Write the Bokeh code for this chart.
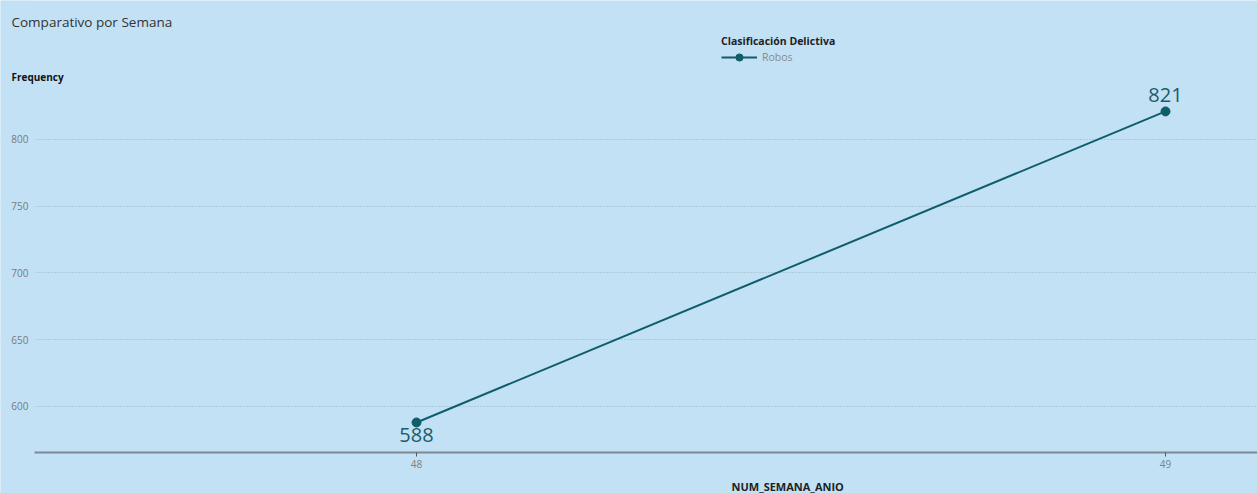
from bokeh.plotting import figure
from bokeh.models import (ColumnDataSource, Range1d, FixedTicker, Label, LabelSet,
                          Legend, LegendItem, BoxAnnotation)
from bokeh.core.properties import value
from bokeh.embed import file_html
from bokeh.resources import INLINE

# ---- data ----
weeks = [48, 49]
robos = [588, 821]
series_name = "Robos"
y_ticks = [600, 650, 700, 750, 800]
x_ticks = [48, 49]

BG = "#c2e1f5"
LINE = "#0f5d6a"
FONT = "Open Sans"

# plot-area limits (data units) and where the axes sit
X_MIN, X_MAX = 47.4446, 49.1228
Y_MIN, Y_MAX = 534.8, 904.1
X_AXIS_AT = 565.5
Y_AXIS_AT = 47.49

offsets = [(-13 if v == min(robos) else 16) for v in robos]
src = ColumnDataSource(dict(x=weeks, y=robos, lbl=[str(v) for v in robos], off=offsets))

p = figure(width=1257, height=493, output_backend="svg", toolbar_location=None,
           title=None, x_range=Range1d(X_MIN, X_MAX), y_range=Range1d(Y_MIN, Y_MAX),
           min_border_left=0, min_border_right=0, min_border_top=0, min_border_bottom=0)
p.background_fill_color = BG
p.border_fill_color = BG
p.outline_line_color = None

# axes
p.xaxis.fixed_location = X_AXIS_AT
p.xaxis.bounds = (Y_AXIS_AT, X_MAX)
p.xaxis.ticker = FixedTicker(ticks=x_ticks)
p.xaxis.axis_line_color = "#7c8a95"
p.xaxis.axis_line_width = 2
p.xaxis.major_tick_line_color = "#555555"
p.xaxis.major_tick_in = 0
p.xaxis.major_tick_out = 4
p.xaxis.minor_tick_line_color = None
p.xaxis.major_label_standoff = 3
p.xaxis.major_label_text_font = FONT
p.xaxis.major_label_text_font_size = "10px"
p.xaxis.major_label_text_color = "#808080"

p.yaxis.fixed_location = Y_AXIS_AT
p.yaxis.ticker = FixedTicker(ticks=y_ticks)
p.yaxis.axis_line_color = None
p.yaxis.major_tick_line_color = None
p.yaxis.major_tick_in = 0
p.yaxis.major_tick_out = 0
p.yaxis.minor_tick_line_color = None
p.yaxis.major_label_standoff = 6
p.yaxis.major_label_text_font = FONT
p.yaxis.major_label_text_font_size = "10px"
p.yaxis.major_label_text_color = "#7a7a7a"

p.xgrid.grid_line_color = None
p.ygrid.ticker = FixedTicker(ticks=y_ticks)
p.ygrid.grid_line_color = "#9fb2bf"
p.ygrid.grid_line_dash = "1 2"
p.ygrid.grid_line_width = 1

# keep the grid out of the tick-label strip
p.add_layout(BoxAnnotation(right=Y_AXIS_AT, fill_color=BG, fill_alpha=1,
                           line_alpha=0, level="glyph"))

# series
ln = p.line("x", "y", source=src, line_color=LINE, line_width=2)
pts = p.scatter("x", "y", source=src, size=9, fill_color=LINE, line_color=LINE)

p.add_layout(LabelSet(x="x", y="y", text="lbl", source=src, y_offset="off",
                      text_align="center", text_baseline="middle",
                      text_font=value(FONT), text_font_size="20px", text_color="#1d5b68"))

# legend
legend = Legend(items=[LegendItem(label=series_name, renderers=[ln, pts])],
                title="Clasificación Delictiva", location=(721, 427),
                orientation="vertical", background_fill_alpha=0, border_line_color=None,
                padding=2, margin=0, spacing=0, glyph_width=36, glyph_height=18,
                label_text_font=FONT, label_text_font_size="10.5px",
                label_text_color="#8a8a8a", label_standoff=5,
                title_text_font=FONT, title_text_font_style="bold",
                title_text_font_size="10.5px", title_text_color="#222222",
                title_standoff=0)
p.add_layout(legend)

# texts around the plot area (screen units, from the lower-left corner)
p.add_layout(Label(x=11, y=472, x_units="screen", y_units="screen",
                   text="Comparativo por Semana", text_font=FONT, text_font_size="13.5px",
                   text_color="#333333", text_baseline="middle"))
p.add_layout(Label(x=11, y=417, x_units="screen", y_units="screen",
                   text="Frequency", text_font=FONT, text_font_style="bold",
                   text_font_size="10px", text_color="#111111", text_baseline="middle"))
p.add_layout(Label(x=731, y=7, x_units="screen", y_units="screen",
                   text="NUM_SEMANA_ANIO", text_font=FONT, text_font_style="bold",
                   text_font_size="11px", text_color="#222222", text_baseline="middle"))

html = file_html(p, INLINE)
html = html.replace("<body>", '<body style="background-color:%s">' % BG, 1)
open("out.html", "w").write(html)
